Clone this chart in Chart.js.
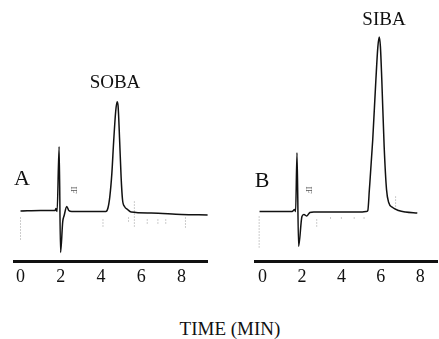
<!DOCTYPE html>
<html>
<head>
<meta charset="utf-8">
<script src="https://cdn.jsdelivr.net/npm/chart.js@4.4.1/dist/chart.umd.min.js"></script>
<style>
  html, body { margin: 0; padding: 0; background: #fff; }
  #wrap { position: relative; width: 439px; height: 339px; overflow: hidden; font-family: 'Liberation Serif', 'Times New Roman', serif; color: #111; }
  .box { position: absolute; }
  .lbl { position: absolute; transform: translate(-50%, -50%); white-space: nowrap; line-height: 1; }
  .if { position: absolute; font-size: 8px; transform: translate(-50%, -50%) rotate(90deg); color: #555; }
</style>
</head>
<body>
<div id="wrap">
  <div class="box" style="left:11px; top:0; width:197px; height:300px;"><canvas id="chart-a"></canvas></div>
  <div class="box" style="left:253px; top:0; width:185px; height:300px;"><canvas id="chart-b"></canvas></div>
  <div class="lbl" style="left:22px; top:178px; font-size:22px;">A</div>
  <div class="lbl" style="left:262px; top:180px; font-size:22px;">B</div>
  <div class="lbl" style="left:115px; top:81px; font-size:19px;">SOBA</div>
  <div class="lbl" style="left:384px; top:18px; font-size:19px;">SIBA</div>
  <div class="lbl" style="left:230px; top:328px; font-size:19px;">TIME (MIN)</div>
  <div class="if" style="left:73px; top:190px;">IF</div>
  <div class="if" style="left:308px; top:190px;">IF</div>
</div>
<script>
// ── Data (time in min, detector response in arbitrary units) ──
const timeA = [0, 1.0, 1.72, 1.76, 1.82, 1.92, 1.99, 2.1, 2.17, 2.3, 2.4, 2.55, 3.5, 4.24, 4.34, 4.44, 4.54, 4.63, 4.73, 4.8, 4.85, 4.93, 5.0, 5.07, 5.17, 5.32, 5.5, 6.5, 8.0, 9.3];
const signalA = [0.5, 1, 1, 3, 0, 65, -41, -10, -4, 5, 1, 0, 0, 0, 3, 15, 38, 70, 100, 110, 106, 70, 35, 12, 5, 2, -0.5, -1.5, -3, -3.5];

const timeB = [-0.15, 1.5, 1.63, 1.68, 1.75, 1.83, 2.0, 2.1, 2.25, 2.4, 2.6, 5.0, 5.25, 5.34, 5.42, 5.59, 5.75, 5.85, 5.92, 5.98, 6.05, 6.17, 6.29, 6.4, 6.6, 6.9, 7.25, 7.85];
const signalB = [0, 0, 2, 0, 59, -35, -5, -3, -4.5, -1, -0.5, -0.5, 0, 1, 22, 72, 132, 165, 175, 165, 132, 65, 22, 9, 4, 1, -0.5, -1.5];

// event marker ticks (dotted)
const markTimeA = [0, 4.1, 5.37, 5.66, 6.3, 6.83, 7.22, 8.2];
const markTopA = [-6, -8, -6, 10, -8, -8, -8, -6];
const markBotA = [-30, -16, -10, -15, -13, -13, -13, -16];

const markTimeB = [-0.17, 2.75, 3.45, 4.0, 4.65, 5.15, 6.75];
const markTopB = [-5, -8, -6, -6, -6, -6, 15];
const markBotB = [-36, -15, -9, -9, -9, -9, 2];

const tickValues = [0, 2, 4, 6, 8];

Chart.defaults.font.family = "'Liberation Serif', 'Times New Roman', serif";

function toPoints(xs, ys) { return xs.map((x, i) => ({ x, y: ys[i] })); }
function toMarks(xs, tops, bots) {
  const pts = [];
  xs.forEach((x, i) => { pts.push({ x, y: tops[i] }, { x, y: bots[i] }, { x, y: null }); });
  return pts;
}

function makeChart(id, xs, ys, mx, mt, mb, xmin, xmax) {
  return new Chart(document.getElementById(id), {
    type: 'line',
    data: {
      datasets: [
        { data: toPoints(xs, ys), borderColor: '#111', borderWidth: 1.5, pointRadius: 0, cubicInterpolationMode: 'monotone', fill: false },
        { data: toMarks(mx, mt, mb), borderColor: '#9a9a9a', borderWidth: 1, borderDash: [1, 2], pointRadius: 0, spanGaps: false, fill: false },
      ]
    },
    options: {
      responsive: true,
      maintainAspectRatio: false,
      animation: false,
      events: [],
      layout: { padding: { left: 0, right: 0, top: 0, bottom: 7 } },
      plugins: { legend: { display: false }, tooltip: { enabled: false } },
      scales: {
        x: {
          type: 'linear', min: xmin, max: xmax,
          afterBuildTicks: axis => { axis.ticks = tickValues.map(v => ({ value: v })); },
          grid: { display: false, drawTicks: false },
          border: { display: true, color: '#111', width: 3 },
          ticks: { color: '#111', padding: 5, autoSkip: false, maxRotation: 0, font: { size: 18, family: "'Liberation Serif', serif" } }
        },
        y: { display: false, min: -50, max: 212 }
      }
    }
  });
}

const chartA = makeChart('chart-a', timeA, signalA, markTimeA, markTopA, markBotA, -0.29, 9.32);
const chartB = makeChart('chart-b', timeB, signalB, markTimeB, markTopB, markBotB, -0.35, 8.9);
</script>
</body>
</html>
